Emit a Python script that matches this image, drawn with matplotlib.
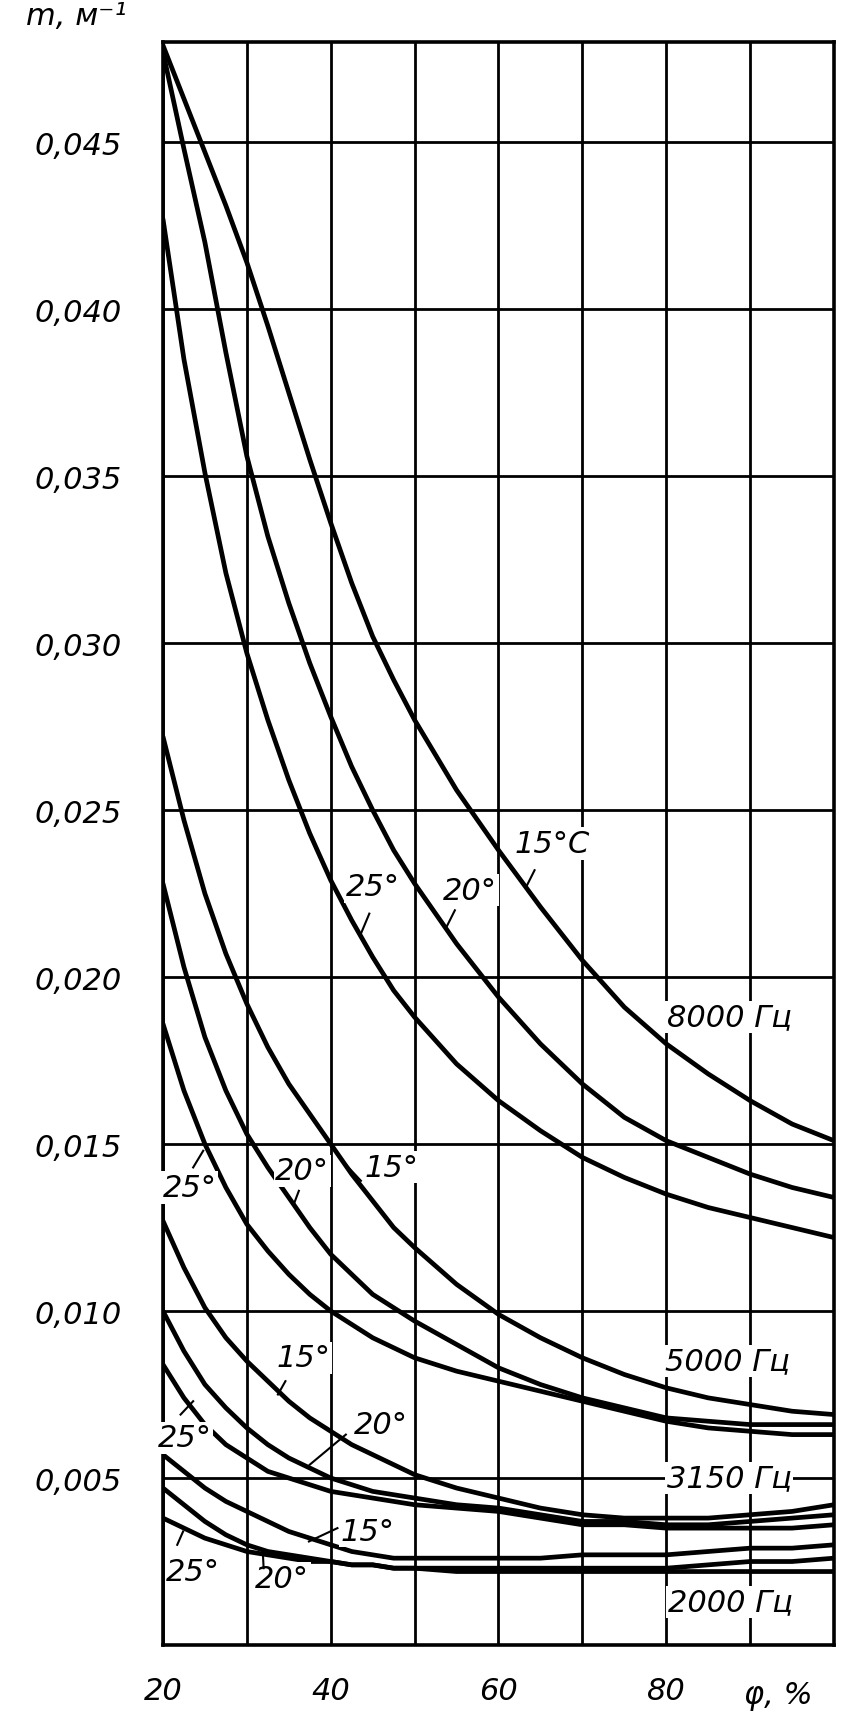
import matplotlib
matplotlib.use("Agg")
import matplotlib.pyplot as plt
from matplotlib import font_manager as fm

# relative humidity, %
humidity = [20, 22.5, 25, 27.5, 30, 32.5, 35, 37.5, 40, 42.5, 45, 47.5, 50,
            55, 60, 65, 70, 75, 80, 85, 90, 95, 100]

# attenuation coefficient m, 1/m  (frequency / temperature)
m_8000_15 = [0.0479, 0.0463, 0.0447, 0.0431, 0.0414, 0.0395, 0.0375, 0.0355, 0.0336, 0.0318, 0.0302, 0.0289, 0.0277,
             0.0256, 0.0238, 0.0221, 0.0205, 0.0191, 0.0180, 0.0171, 0.0163, 0.0156, 0.0151]
m_8000_20 = [0.0477, 0.0448, 0.0420, 0.0387, 0.0356, 0.0332, 0.0312, 0.0294, 0.0278, 0.0263, 0.0250, 0.0238, 0.0228,
             0.0210, 0.0194, 0.0180, 0.0168, 0.0158, 0.0151, 0.0146, 0.0141, 0.0137, 0.0134]
m_8000_25 = [0.0427, 0.0385, 0.0351, 0.0321, 0.0297, 0.0277, 0.0259, 0.0243, 0.0229, 0.0217, 0.0206, 0.0196, 0.0188,
             0.0174, 0.0163, 0.0154, 0.0146, 0.0140, 0.0135, 0.0131, 0.0128, 0.0125, 0.0122]

m_5000_15 = [0.0272, 0.0247, 0.0225, 0.0207, 0.0192, 0.0179, 0.0168, 0.0159, 0.0150, 0.0141, 0.0133, 0.0125, 0.0119,
             0.0108, 0.0099, 0.0092, 0.0086, 0.0081, 0.0077, 0.0074, 0.0072, 0.0070, 0.0069]
m_5000_20 = [0.0228, 0.0203, 0.0182, 0.0166, 0.0153, 0.0143, 0.0134, 0.0125, 0.0117, 0.0111, 0.0105, 0.0101, 0.0097,
             0.0090, 0.0083, 0.0078, 0.0074, 0.0071, 0.0068, 0.0067, 0.0066, 0.0066, 0.0066]
m_5000_25 = [0.0186, 0.0166, 0.0150, 0.0137, 0.0126, 0.0118, 0.0111, 0.0105, 0.0100, 0.0096, 0.0092, 0.0089, 0.0086,
             0.0082, 0.0079, 0.0076, 0.0073, 0.0070, 0.0067, 0.0065, 0.0064, 0.0063, 0.0063]

m_3150_15 = [0.0127, 0.0113, 0.0101, 0.0092, 0.0085, 0.0079, 0.0073, 0.0068, 0.0064, 0.0060, 0.0057, 0.0054, 0.0051,
             0.0047, 0.0044, 0.0041, 0.0039, 0.0038, 0.0038, 0.0038, 0.0039, 0.0040, 0.0042]
m_3150_20 = [0.0100, 0.0088, 0.0078, 0.0071, 0.0065, 0.0060, 0.0056, 0.0053, 0.0050, 0.0048, 0.0046, 0.0045, 0.0044,
             0.0042, 0.0041, 0.0039, 0.0037, 0.0037, 0.0036, 0.0036, 0.0037, 0.0038, 0.0039]
m_3150_25 = [0.0084, 0.0074, 0.0066, 0.0060, 0.0056, 0.0052, 0.0050, 0.0048, 0.0046, 0.0045, 0.0044, 0.0043, 0.0042,
             0.0041, 0.0040, 0.0038, 0.0036, 0.0036, 0.0035, 0.0035, 0.0035, 0.0035, 0.0036]

m_2000_15 = [0.0057, 0.0052, 0.0047, 0.0043, 0.0040, 0.0037, 0.0034, 0.0032, 0.0030, 0.0028, 0.0027, 0.0026, 0.0026,
             0.0026, 0.0026, 0.0026, 0.0027, 0.0027, 0.0027, 0.0028, 0.0029, 0.0029, 0.0030]
m_2000_20 = [0.0047, 0.0042, 0.0037, 0.0033, 0.0030, 0.0028, 0.0027, 0.0026, 0.0025, 0.0024, 0.0024, 0.0023, 0.0023,
             0.0023, 0.0023, 0.0023, 0.0023, 0.0023, 0.0023, 0.0024, 0.0025, 0.0025, 0.0026]
m_2000_25 = [0.0038, 0.0035, 0.0032, 0.0030, 0.0028, 0.0027, 0.0026, 0.0025, 0.0025, 0.0024, 0.0024, 0.0023, 0.0023,
             0.0022, 0.0022, 0.0022, 0.0022, 0.0022, 0.0022, 0.0022, 0.0022, 0.0022, 0.0022]

curves = [m_8000_15, m_8000_20, m_8000_25, m_5000_15, m_5000_20, m_5000_25,
          m_3150_15, m_3150_20, m_3150_25, m_2000_15, m_2000_20, m_2000_25]

y_ticks = [0.005, 0.010, 0.015, 0.020, 0.025, 0.030, 0.035, 0.040, 0.045]
y_labels = ["0,005", "0,010", "0,015", "0,020", "0,025", "0,030", "0,035", "0,040", "0,045"]
x_ticks = [20, 30, 40, 50, 60, 70, 80, 90, 100]
x_labels = ["20", "", "40", "", "60", "", "80", "", ""]

# curve labels: text, label position, tick line (x0, y0, x1, y1) or None
curve_labels = [
    ("15°C", 66.4, 0.0240, (64.3, 0.0232, 63.3, 0.0227)),
    ("20°", 56.6, 0.0226, (54.8, 0.0220, 53.8, 0.0215)),
    ("25°", 45.0, 0.0227, (44.6, 0.0219, 43.6, 0.0213)),
    ("8000 Гц", 87.5, 0.0188, None),
    ("25°", 23.2, 0.0137, (23.6, 0.0143, 24.8, 0.0148)),
    ("20°", 36.6, 0.0142, (36.2, 0.0136, 35.6, 0.0132)),
    ("15°", 47.2, 0.0143, (43.6, 0.0139, 41.0, 0.0146)),
    ("5000 Гц", 87.3, 0.0085, None),
    ("15°", 36.8, 0.0086, (34.6, 0.0079, 33.7, 0.0075)),
    ("20°", 46.0, 0.0066, (41.8, 0.0063, 37.5, 0.0054)),
    ("25°", 22.6, 0.0062, (22.1, 0.0069, 23.6, 0.0073)),
    ("3150 Гц", 87.5, 0.0050, None),
    ("15°", 44.4, 0.0034, (40.8, 0.0035, 37.4, 0.0031)),
    ("25°", 23.6, 0.0022, (21.7, 0.0030, 22.4, 0.0034)),
    ("20°", 34.2, 0.0020, (32.0, 0.0023, 31.9, 0.0028)),
    ("2000 Гц", 87.6, 0.0013, None),
]

names = {f.name for f in fm.fontManager.ttflist}
if "Liberation Sans Narrow" in names:
    fam, fs = "Liberation Sans Narrow", 29
else:
    fam, fs = "DejaVu Sans", 22
font = dict(family=fam, style="italic", size=fs)

fig = plt.figure(figsize=(8.65, 17.33), dpi=100)
ax = fig.add_axes([0.1884, 0.0502, 0.7758, 0.925])

for m in curves:
    ax.plot(humidity, m, color="black", lw=3.4, solid_joinstyle="round", solid_capstyle="round",
            zorder=3)

ax.set_xlim(20, 100)
ax.set_ylim(0, 0.048)
ax.set_xticks(x_ticks)
ax.set_xticklabels(x_labels, fontdict=font)
ax.set_yticks(y_ticks)
ax.set_yticklabels(y_labels, fontdict=font)
ax.tick_params(length=0)
ax.tick_params(axis="y", pad=30)
ax.tick_params(axis="x", pad=22)
ax.grid(True, color="black", lw=2.0)
for s in ax.spines.values():
    s.set_linewidth(2.6)

for text, tx, ty, tick in curve_labels:
    ax.text(tx, ty, text, ha="center", va="center", zorder=4,
            bbox=dict(facecolor="white", edgecolor="none", pad=1), **font)
    if tick is not None:
        ax.plot([tick[0], tick[2]], [tick[1], tick[3]], color="black", lw=1.5, zorder=5)

ax.text(9.7, 0.0488, "m, м⁻¹", ha="center", va="center", clip_on=False, **font)
ax.text(93.4, -0.0015, "φ, %", ha="center", va="center", clip_on=False, **font)

fig.savefig("out.png", dpi=100, facecolor="white")
